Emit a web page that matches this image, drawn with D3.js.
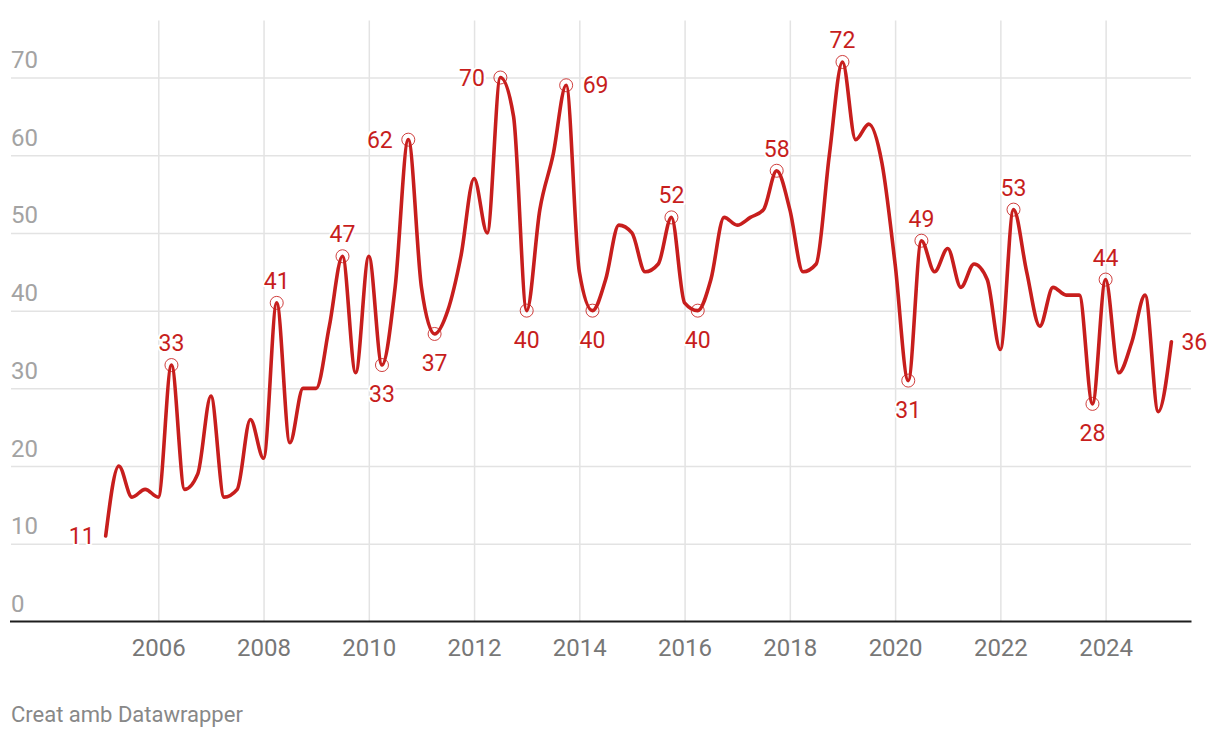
<!DOCTYPE html>
<html><head><meta charset="utf-8">
<script src="https://cdn.jsdelivr.net/npm/d3@7"></script>
<style>
body{margin:0;background:#fff;}
svg{display:block;font-family:Roboto, "Noto Sans", sans-serif;}
</style></head><body>
<svg id="chart" width="1220" height="738"></svg>
<script>
// ---- data ----
const firstYear = 2005;           // first quarter: 2005 T1
const values = [
  11, 20, 16, 17,   16, 33, 17, 19,   29, 16, 17, 26,   21, 41, 23, 30,
  30, 38, 47, 32,   47, 33, 43, 62,   43, 37, 40, 47,   57, 50, 70, 65,
  40, 53, 60, 69,   45, 40, 44, 51,   50, 45, 46, 52,   41, 40, 44, 52,
  51, 52, 53, 58,   53, 45, 46, 60,   72, 62, 64, 59,   46, 31, 49, 45,
  48, 43, 46, 44,   35, 53, 45, 38,   43, 42, 42, 28,   44, 32, 36, 42,
  27, 36
];
const yTicks = [0, 10, 20, 30, 40, 50, 60, 70];
const xTicks = [2006, 2008, 2010, 2012, 2014, 2016, 2018, 2020, 2022, 2024];
// [index, label side, circle marker]
const labelled = [
  [0, "left", false], [5, "top", true], [13, "top", true], [18, "top", true],
  [21, "bottom", true], [23, "left", true], [25, "bottom", true], [30, "left", true],
  [32, "bottom", true], [35, "right", true], [37, "bottom", true], [43, "top", true],
  [45, "bottom", true], [51, "top", true], [56, "top", true], [61, "bottom", true],
  [62, "top", true], [69, "top", true], [75, "bottom", true], [76, "top", true],
  [81, "right", false]
];
const footer = "Creat amb Datawrapper";

// ---- build ----
const periods = values.map((v, i) => firstYear + i / 4);
const data = values.map((v, i) => ({ t: periods[i], v }));

const RED = "#c71e1d";
const svg = d3.select("#chart");

const x = d3.scaleLinear().domain([2005, 2025.25]).range([105.67, 1171.4]);
const y = d3.scaleLinear().domain([0, 70]).range([621.5, 77.5]);

// horizontal gridlines + y labels
const gy = svg.append("g").attr("transform", "translate(11,0)")
  .call(d3.axisLeft(y).tickValues(yTicks).tickSize(-1180).tickFormat(d3.format("d")));
gy.select(".domain").remove();
gy.selectAll(".tick line").attr("stroke", "#e3e3e3").attr("stroke-width", 1.5)
  .filter(d => d === 0).remove();
gy.selectAll(".tick text")
  .attr("x", 0).attr("dy", 0).attr("y", -10)
  .attr("text-anchor", "start")
  .attr("fill", "#a3a3a3").attr("font-size", 24).attr("font-family", "Roboto");

// vertical gridlines
const gx = svg.append("g").attr("transform", "translate(0,621.5)")
  .call(d3.axisBottom(x).tickValues(xTicks).tickSize(-601).tickFormat(d3.format("d")));
gx.select(".domain").remove();
gx.selectAll(".tick line").attr("stroke", "#e3e3e3").attr("stroke-width", 1.5);
gx.selectAll(".tick text")
  .attr("y", 34.5).attr("dy", 0)
  .attr("fill", "#777").attr("font-size", 24).attr("font-family", "Roboto");

// baseline
svg.append("line")
  .attr("x1", 10).attr("x2", 1191.5)
  .attr("y1", y(0)).attr("y2", y(0))
  .attr("stroke", "#1d1d1d").attr("stroke-width", 2);

// marker circles
svg.append("g").selectAll("circle")
  .data(labelled.filter(d => d[2]))
  .join("circle")
  .attr("cx", d => x(data[d[0]].t))
  .attr("cy", d => y(data[d[0]].v))
  .attr("r", 6.5)
  .attr("fill", "none")
  .attr("stroke", RED).attr("stroke-width", 1).attr("stroke-opacity", 0.85);

// line
const line = d3.line().x(d => x(d.t)).y(d => y(d.v)).curve(d3.curveMonotoneX);
svg.append("path").datum(data)
  .attr("d", line)
  .attr("fill", "none")
  .attr("stroke", RED)
  .attr("stroke-width", 3.6)
  .attr("stroke-linejoin", "round")
  .attr("stroke-linecap", "round");

// value labels
svg.append("g").selectAll("text")
  .data(labelled)
  .join("text")
  .attr("font-size", 23)
  .attr("font-family", "Roboto")
  .attr("fill", RED)
  .attr("stroke", "#fff").attr("stroke-width", 4).attr("stroke-linejoin", "round")
  .attr("paint-order", "stroke")
  .each(function (d) {
    const p = data[d[0]];
    const px = x(p.t), py = y(p.v);
    const t = d3.select(this);
    if (d[1] === "top") t.attr("x", px).attr("y", py - 14).attr("text-anchor", "middle");
    else if (d[1] === "bottom") t.attr("x", px).attr("y", py + 37).attr("text-anchor", "middle");
    else if (d[1] === "left") t.attr("x", px - (d[2] ? 15.5 : 11)).attr("y", py + 8).attr("text-anchor", "end");
    else t.attr("x", px + (d[2] ? 16.5 : 10)).attr("y", py + 8).attr("text-anchor", "start");
  })
  .text(d => data[d[0]].v);

// footer
svg.append("text")
  .attr("x", 11).attr("y", 722)
  .attr("font-size", 22).attr("font-family", "Roboto")
  .attr("fill", "#888")
  .text(footer);
</script>
</body></html>
